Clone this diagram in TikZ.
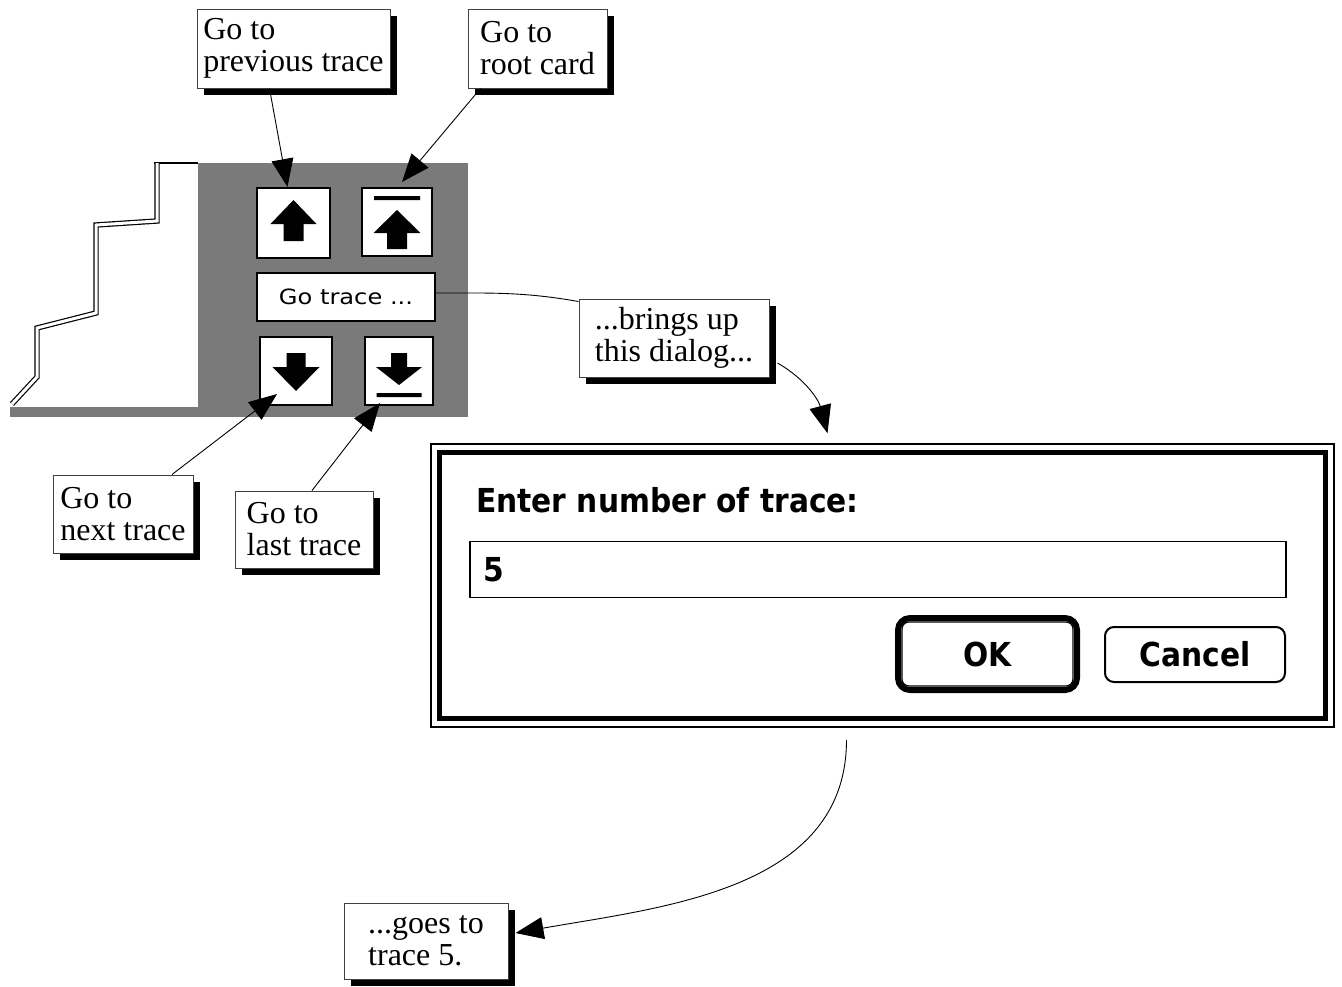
\documentclass[tikz,border=0pt]{standalone}
\usepackage{fontspec}
\usetikzlibrary{arrows.meta,shadows}
\newfontfamily\tipfont{Liberation Serif}
\newfontfamily\macfont[FakeStretch=0.9]{DejaVu Sans}
\newfontfamily\genevafont[FakeStretch=1.15]{DejaVu Sans}

\begin{document}
\begin{tikzpicture}[
    x=1pt, y=-1pt,
    tip/.style={draw=black!75, fill=white, line width=1pt, align=left,
                inner sep=0pt, font=\tipfont\fontsize{32}{32}\selectfont,
                drop shadow={shadow xshift=7pt, shadow yshift=-7pt,
                             fill=black, opacity=1}},
    btn/.style={draw, fill=white, line width=2pt, inner sep=0pt},
    dlgtext/.style={font=\macfont\bfseries\fontsize{33}{36}\selectfont, inner sep=0pt},
    link/.style={-{Triangle[length=28pt,width=22pt]}, line width=0.9pt},
    wire/.style={line width=0.9pt},
    panel/.style={fill=black!52}
]
\useasboundingbox (0,0) rectangle (1342,986);

% card stack and button panel
\fill[panel] (198,163) rectangle (468,417);
\fill[panel] (10,407) rectangle (198,417);
\draw[line width=2pt] (154,163) -- (198,163);
\draw[line width=1.2pt, double, double distance=3pt]
    (157,163) -- (157,221) -- (96,225) -- (96,313) -- (37,328) -- (37,377) -- (12,404);

\node[btn, minimum width=73pt, minimum height=70pt] (prevBtn) at (293.5,223) {};
\node[btn, minimum width=70pt, minimum height=68pt] (rootBtn) at (397,222) {};
\node[btn, minimum width=178pt, minimum height=48pt,
      font=\genevafont\fontsize{21}{24}\selectfont] (goBtn) at (346,297) {Go trace ...};
\node[btn, minimum width=72pt, minimum height=68pt] (downBtn) at (296,371) {};
\node[btn, minimum width=68pt, minimum height=68pt] (lastBtn) at (399,371) {};

% arrow glyphs
\fill[shift={(prevBtn.center)}] (0,-23) -- (23,1) -- (10,1) -- (10,18) -- (-10,18)
    -- (-10,1) -- (-23,1) -- cycle;
\fill[shift={(rootBtn.center)}] (-23,-26) rectangle (23,-22)
    (0,-12) -- (23.5,11) -- (10,11) -- (10,27) -- (-10,27) -- (-10,11) -- (-23.5,11) -- cycle;
\fill[shift={(downBtn.center)}] (-9.5,-18) -- (9.5,-18) -- (9.5,-4) -- (23.5,-4) -- (0,20)
    -- (-23.5,-4) -- (-9.5,-4) -- cycle;
\fill[shift={(lastBtn.center)}] (-8,-18) -- (8,-18) -- (8,-4) -- (23,-4) -- (0,14)
    -- (-23,-4) -- (-8,-4) -- cycle (-22.5,22) rectangle (22.5,26);

% callouts
\node[tip, minimum width=193pt, minimum height=79pt] (prevTip) at (293.5,48.5) {Go to\\previous trace};
\node[tip, minimum width=139pt, minimum height=79pt] (rootTip) at (537.5,48.5) {Go to\\root card};
\node[tip, minimum width=140pt, minimum height=78pt] (nextTip) at (123,514) {Go to\\next trace};
\node[tip, minimum width=138pt, minimum height=77pt] (lastTip) at (304,529.5) {Go to\\last trace};
\node[tip, minimum width=190pt, minimum height=78pt] (bringsTip) at (674,338) {...brings up\\this dialog...};
\node[tip, minimum width=164pt, minimum height=76pt] (goesTip) at (426,941) {...goes to\\trace 5.};

% dialog
\node[draw, line width=1.5pt, fill=white, minimum width=903pt, minimum height=283pt,
      inner sep=0pt] (dlg) at (882.5,585.5) {};
\draw[line width=5pt] ([shift={(9.5pt,-9.5pt)}]dlg.north west)
    rectangle ([shift={(-9.5pt,9.5pt)}]dlg.south east);
\node[dlgtext, anchor=base west] (prompt) at (476,512) {Enter number of trace:};
\node[draw, line width=1.5pt, minimum width=816pt, minimum height=56pt,
      inner sep=0pt] (numField) at (878,569.5) {};
\node[dlgtext, anchor=base west] (numVal) at (483,581) {5};
\node[dlgtext, draw, line width=6pt, rounded corners=12pt, minimum width=179pt,
      minimum height=72pt] (okBtn) at (987.5,654) {OK};
\draw[line width=1.2pt, rounded corners=7pt] ([shift={(7pt,-7pt)}]okBtn.north west)
    rectangle ([shift={(-7pt,7pt)}]okBtn.south east);
\node[dlgtext, draw, line width=2pt, rounded corners=9pt, minimum width=180pt,
      minimum height=55pt] (cancelBtn) at (1195,654.5) {Cancel};

% connectors
\coordinate (dlgIn) at ([xshift=-55pt,yshift=10pt]dlg.north);
\draw[link] ([xshift=-24pt]prevTip.south) -- ([xshift=-6pt]prevBtn.north);
\draw[link] ([xshift=-57pt]rootTip.south) -- ([xshift=5pt,yshift=5pt]rootBtn.north);
\draw[link] ([xshift=49pt]nextTip.north) -- ([xshift=-19pt,yshift=12pt]downBtn.south);
\draw[link] ([xshift=8pt]lastTip.north) -- ([xshift=-19pt,yshift=3pt]lastBtn.south);
\draw[wire] ([yshift=4pt]goBtn.east) to[out=0,in=170] ([yshift=-3pt]bringsTip.north west);
\draw[link] ([xshift=8pt,yshift=-25pt]bringsTip.east) to[out=-30,in=105] (dlgIn);
\draw[link] ([xshift=-36pt,yshift=-12pt]dlg.south) to[out=-90,in=10] ([xshift=7pt,yshift=8pt]goesTip.east);

\end{tikzpicture}
\end{document}
